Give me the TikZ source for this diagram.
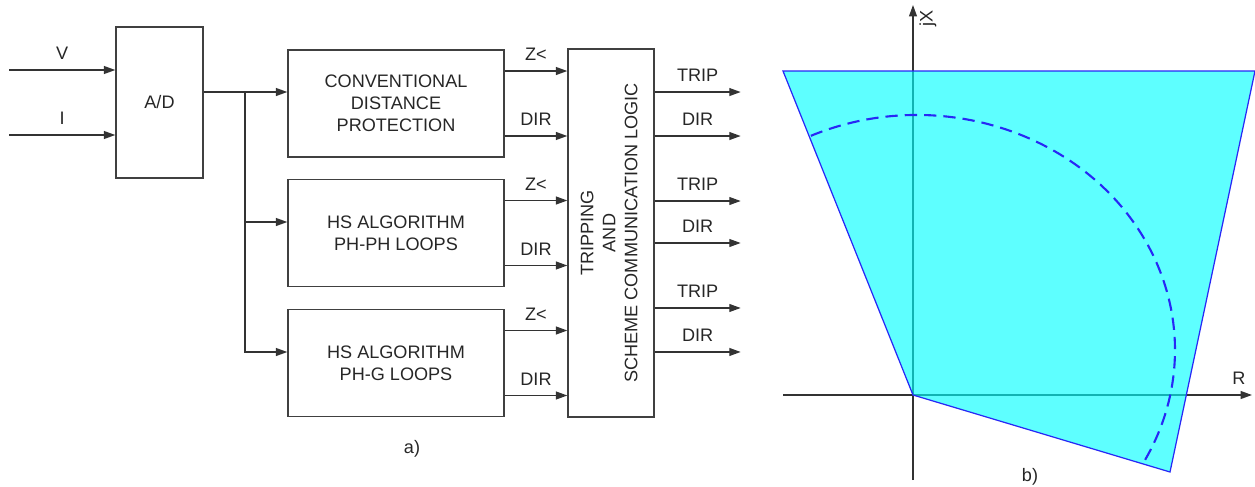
\documentclass[tikz,border=0pt]{standalone}
\usepackage{fontspec}
\setmainfont{Liberation Sans}
\usepackage{graphicx}
\usetikzlibrary{arrows.meta}
\definecolor{zoneblue}{RGB}{40,40,245}
\definecolor{zonecyan}{RGB}{0,255,255}
\begin{document}
\begin{tikzpicture}[
  x=0.02cm, y=-0.02cm,
  font=\fontsize{10.3}{12.5}\selectfont,
  every node/.style={text=black!85},
  block/.style={rectangle, draw=black!75, line width=0.8pt, align=center},
  line/.style={draw=black!80, line width=0.8pt},
  arrow/.style={line, -{Triangle[length=6.5pt, width=4.5pt]}},
  lbl/.style={midway, above=2pt},
]
\useasboundingbox (0,0) rectangle (1255,487);

% a) block diagram
\node[block, minimum width=1.74cm, minimum height=3.02cm] (ad) at (159.5,102.5)
  {A/D};
\node[block, minimum width=4.32cm, minimum height=2.14cm] (cdp) at (396,103.5)
  {CONVENTIONAL\\DISTANCE\\PROTECTION};
\node[block, minimum width=4.32cm, minimum height=2.14cm] (hsph) at (396,233)
  {HS ALGORITHM\\PH-PH LOOPS};
\node[block, minimum width=4.32cm, minimum height=2.14cm] (hsg) at (396,363)
  {HS ALGORITHM\\PH-G LOOPS};
\node[block, minimum width=1.72cm, minimum height=7.36cm] (logic) at (611,233)
  {\rotatebox{90}{\begin{tabular}{@{}c@{}}TRIPPING\\AND\\
   SCHEME COMMUNICATION LOGIC\end{tabular}}};

\coordinate (vin) at (9,70);
\coordinate (iin) at (9,135);
\draw[arrow] (vin) -- (vin -| ad.west) node[lbl] {V};
\draw[arrow] (iin) -- (iin -| ad.west) node[lbl] {I};

\coordinate (split) at (245,92);
\draw[line] (ad.east |- split) -- (split);
\draw[arrow] (split) -- (split -| cdp.west);
\draw[arrow] (split) |- ([yshift=0.22cm]hsph.west);
\draw[arrow] (split) |- ([yshift=0.22cm]hsg.west);

\foreach \b in {cdp, hsph, hsg} {
  \draw[arrow] ([yshift=0.65cm]\b.east) -- ([yshift=0.65cm]\b.east -| logic.west)
    node[lbl] {Z<};
  \draw[arrow] ([yshift=-0.65cm]\b.east) -- ([yshift=-0.65cm]\b.east -| logic.west)
    node[lbl] {DIR};
}

\foreach \dy/\txt in {2.82/TRIP, 1.94/DIR, 0.64/TRIP, -0.20/DIR, -1.50/TRIP, -2.38/DIR} {
  \draw[arrow] ([yshift=\dy cm]logic.east) -- ++(86,0) node[lbl] {\txt};
}

\node (capa) at (412,449) {a)};

% b) impedance plane
\coordinate (o) at (913,395);
\coordinate (rmin) at (783,395);
\coordinate (rmax) at (1252,395);
\coordinate (xmin) at (913,480);
\coordinate (xmax) at (913,5);
\draw[arrow] (rmin) -- (rmax);
\draw[arrow] (xmin) -- (xmax);
\node (rlbl) at (1239,378) {R};
\node[rotate=90] (xlbl) at (928,18) {jX};

\path[fill=zonecyan, fill opacity=0.63, draw=zoneblue, line width=0.7pt]
  (783,71) -- (1255,71) -- (1170,472) -- (o) -- cycle;

\coordinate (ctr) at (917,350);
\draw[zoneblue, line width=1.2pt, dash pattern=on 7pt off 4pt]
  (ctr) ++(-114.3:258 and 235) arc[start angle=-114.3, end angle=29,
  x radius=258, y radius=235];

\node (capb) at (1030,477) {b)};
\end{tikzpicture}
\end{document}
